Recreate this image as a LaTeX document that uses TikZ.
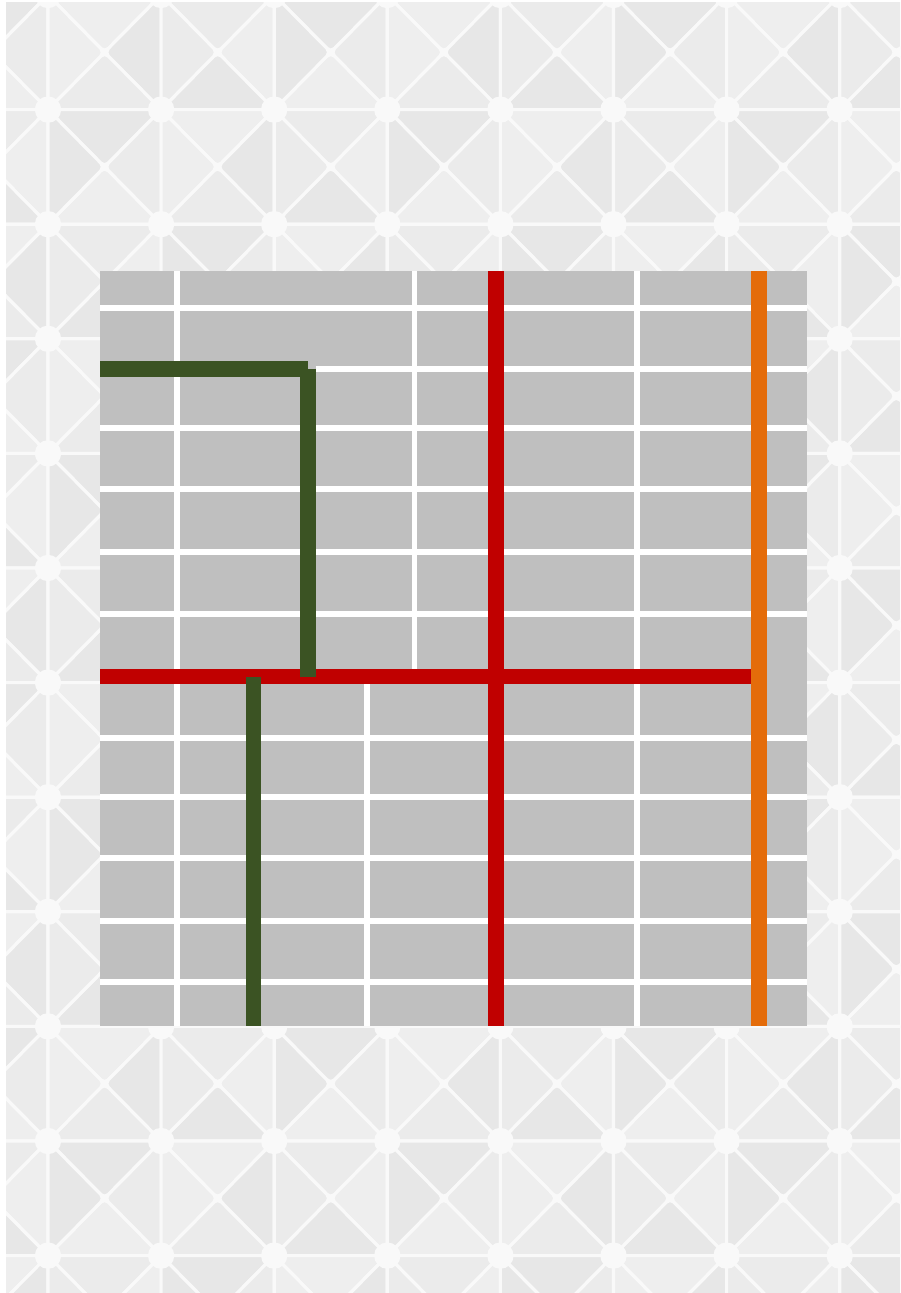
\documentclass[tikz,border=0pt]{standalone}
\usepackage{tikz}

\definecolor{tilegap}{HTML}{F9F9F9}
\definecolor{panelgray}{HTML}{BFBFBF}
\definecolor{routegreen}{HTML}{3B5323}
\definecolor{routered}{HTML}{C00000}
\definecolor{routeorange}{HTML}{E46C0A}

\tikzset{
	tile/.style={draw=tilegap, line width=1.8pt, line join=round, rounded corners=3pt},
	gridline/.style={white, line width=3.4pt},
	route/.style={line width=9.1pt},
}

\begin{document}
\begin{tikzpicture}[x=0.02cm, y=-0.02cm]
		\useasboundingbox (0,0) rectangle (900,1293);
		\fill[white] (0,0) rectangle (900,1293);

		% tiled background
		\begin{scope}
		\clip (6,3) rectangle (900,1293);
		\fill[tilegap] (6,3) rectangle (900,1293);
		\foreach \i in {-1,...,7}
		\foreach \j in {0,...,11} {
			\pgfmathsetmacro\xa{48+113.1*\i}
			\pgfmathsetmacro\xb{\xa+113.1}
			\pgfmathsetmacro\ya{-5+114.6*\j}
			\pgfmathsetmacro\yb{\ya+114.6}
			\coordinate (p) at (\xa,\ya);
			\coordinate (q) at (\xb,\ya);
			\coordinate (r) at (\xb,\yb);
			\coordinate (s) at (\xa,\yb);
			\coordinate (m) at (\xa+56.55,\ya+57.3);
			\foreach \u/\v/\t in {p/q/0,q/r/1,r/s/2,s/p/3} {
				\pgfmathsetmacro\g{6.5+1.5*mod(7*\i+11*\j+5*\t+60,3)}
				\filldraw[tile, fill=black!\g] (\u) -- (\v) -- (m) -- cycle;
			}
			\fill[tilegap] (p) circle[radius=7.5pt];
		}
		\end{scope}

		% panel and its white grid
		\fill[panelgray] (100,271) rectangle (807,1026);
		\foreach \y in {308,428,489,552,614,738,797,858,921,982}
			\draw[gridline] (100,\y) -- (807,\y);
		\draw[gridline] (316,369) -- (807,369);
		\foreach \x in {177,637} \draw[gridline] (\x,271) -- (\x,1026);
		\draw[gridline] (414.5,271) -- (414.5,676.5);
		\draw[gridline] (367,676.5) -- (367,1026);

		% routes
		\coordinate (redW) at (100,676.5);
		\coordinate (redE) at (751,676.5);
		\coordinate (redN) at (496,271);
		\coordinate (redS) at (496,1026);
		\coordinate (orN) at (759,271);
		\coordinate (orS) at (759,1026);
		\coordinate (grW) at (100,369);
		\coordinate (grC) at (308,369);
		\coordinate (grS) at (308,676.5);
		\coordinate (gr2N) at (253.5,676.5);
		\coordinate (gr2S) at (253.5,1026);

		\draw[route, routered] (redW) -- (redE);
		\draw[route, routered] (redN) -- (redS);
		\draw[route, routeorange] (orN) -- (orS);
		\draw[route, routegreen] (grW) -- (grC);
		\draw[route, routegreen] (grC) -- (grS);
		\draw[route, routegreen] (gr2N) -- (gr2S);
\end{tikzpicture}
\end{document}
